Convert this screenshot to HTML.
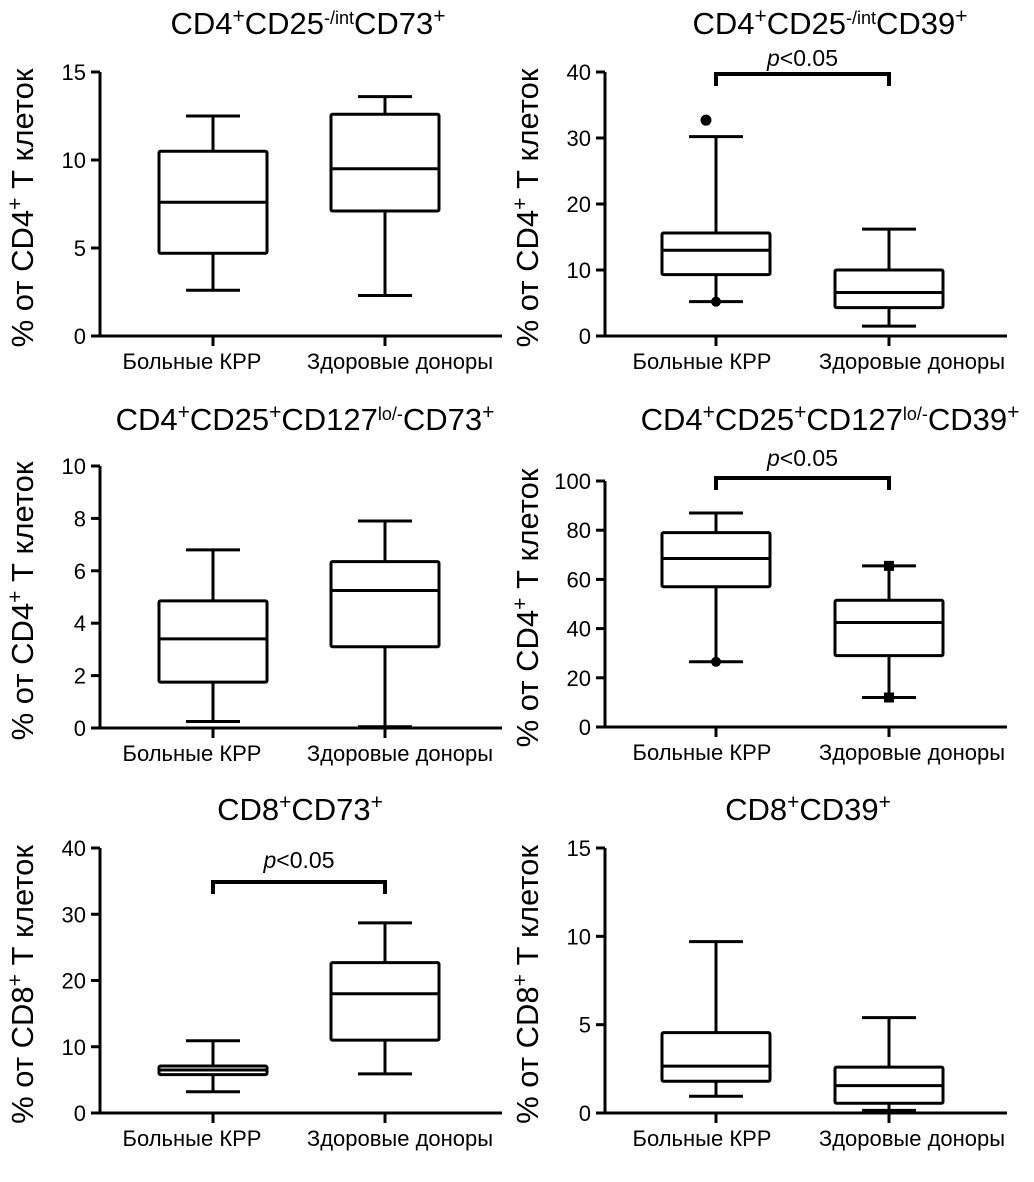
<!DOCTYPE html>
<html><head><meta charset="utf-8"><style>
body{margin:0;background:#fff}
svg{display:block;font-family:"Liberation Sans","DejaVu Sans",sans-serif}
</style></head><body>
<svg id="c" width="1034" height="1182" viewBox="0 0 1034 1182"></svg>
<script>
const categories = ["Больные КРР","Здоровые доноры"];
// each: [min, q1, median, q3, max] for patients and donors
const p1A=[2.6,4.7,7.6,10.5,12.5], p1B=[2.3,7.1,9.5,12.6,13.6];
const p2A=[5.2,9.3,13,15.6,30.2], p2B=[1.5,4.3,6.6,10,16.2];
const p3A=[0.25,1.75,3.4,4.85,6.8], p3B=[0.05,3.1,5.25,6.35,7.9];
const p4A=[26.5,57,68.5,79,87], p4B=[12,29,42.5,51.5,65.5];
const p5A=[3.2,5.8,6.5,7.1,10.9], p5B=[5.9,11,18,22.7,28.7];
const p6A=[0.95,1.8,2.65,4.55,9.7], p6B=[0.15,0.55,1.55,2.6,5.4];
const ticks1=[0,5,10,15], ticks2=[0,10,20,30,40], ticks3=[0,2,4,6,8,10], ticks4=[0,20,40,60,80,100], ticks5=[0,10,20,30,40], ticks6=[0,5,10,15];
const outliers2A=[32.7];
const NS="http://www.w3.org/2000/svg";
const svg=document.getElementById('c');
function el(t,a,p){const e=document.createElementNS(NS,t);for(const k in a)e.setAttribute(k,a[k]);(p||svg).appendChild(e);return e;}
const sp=(s,f)=>`<tspan baseline-shift="super" font-size="${f||21}">${s}</tspan>`;
const panels=[
 {title:'CD4'+sp('+')+'CD25'+sp('-/int',18)+'CD73'+sp('+'),ax:100,top:72,bot:336,cx:[213,385],A:p1A,B:p1B,ticks:ticks1,ylab:'CD4',tx:308,ty:34},
 {title:'CD4'+sp('+')+'CD25'+sp('-/int',18)+'CD39'+sp('+'),ax:605,top:72,bot:336,cx:[716,889],A:p2A,B:p2B,ticks:ticks2,ylab:'CD4',tx:830,ty:34,sig:[74,66],outA:outliers2A,dotA:true},
 {title:'CD4'+sp('+')+'CD25'+sp('+')+'CD127'+sp('lo/-',18)+'CD73'+sp('+'),ax:100,top:466,bot:728,cx:[213,385],A:p3A,B:p3B,ticks:ticks3,ylab:'CD4',tx:305,ty:430},
 {title:'CD4'+sp('+')+'CD25'+sp('+')+'CD127'+sp('lo/-',18)+'CD39'+sp('+'),ax:605,top:481,bot:727,cx:[716,889],A:p4A,B:p4B,ticks:ticks4,ylab:'CD4',tx:830,ty:430,sig:[478,466],dotA:true,sqB:true},
 {title:'CD8'+sp('+')+'CD73'+sp('+'),ax:100,top:848,bot:1113,cx:[213,385],A:p5A,B:p5B,ticks:ticks5,ylab:'CD8',tx:300,ty:820,sig:[882,868]},
 {title:'CD8'+sp('+')+'CD39'+sp('+'),ax:605,top:848,bot:1113,cx:[716,889],A:p6A,B:p6B,ticks:ticks6,ylab:'CD8',tx:808,ty:820}
];
const labX=[[192,400],[702,912]];
panels.forEach((P,i)=>{
 const g=el('g',{});
 
 
 const tmax=P.ticks[P.ticks.length-1];
 const y=v=>P.bot-(v/tmax)*(P.bot-P.top);
 const t=el('text',{x:P.tx,y:P.ty,'text-anchor':'middle','font-size':31},g);t.innerHTML=P.title;
 
 const yl=el('text',{transform:`translate(${P.ax-67},${(P.top+P.bot)/2+4}) rotate(-90)`,'text-anchor':'middle','font-size':31},g);
 yl.innerHTML='% от '+P.ylab+sp('+')+' Т клеток';
 
 const s={stroke:'#000','stroke-width':3,fill:'none'};
 el('line',Object.assign({x1:P.ax,y1:P.top,x2:P.ax,y2:P.bot+1.5},s),g);
 el('line',Object.assign({x1:P.ax-1.5,y1:P.bot,x2:P.ax+402,y2:P.bot},s),g);
 P.ticks.forEach(v=>{
  el('line',Object.assign({x1:P.ax-9,y1:y(v),x2:P.ax,y2:y(v)},s),g);
  const tl=el('text',{x:P.ax-14,y:y(v)+8,'text-anchor':'end','font-size':22},g);tl.textContent=v;
  
 });
 [P.A,P.B].forEach((d,k)=>{
  const cx=P.cx[k];
  el('line',Object.assign({x1:cx,y1:P.bot,x2:cx,y2:P.bot+10},s),g);
  const cl=el('text',{x:labX[i%2][k],y:P.bot+33,'text-anchor':'middle','font-size':22},g);cl.textContent=categories[k];
  
  const bg=el('g',{},g);
  
  
  el('line',Object.assign({x1:cx,y1:y(d[0]),x2:cx,y2:y(d[1])},s),bg);
  el('line',Object.assign({x1:cx,y1:y(d[3]),x2:cx,y2:y(d[4])},s),bg);
  el('line',Object.assign({x1:cx-27,y1:y(d[0]),x2:cx+27,y2:y(d[0])},s),bg);
  el('line',Object.assign({x1:cx-27,y1:y(d[4]),x2:cx+27,y2:y(d[4])},s),bg);
  el('rect',Object.assign({x:cx-54,y:y(d[3]),width:108,height:y(d[1])-y(d[3]),rx:1.5},s),bg);
  el('line',Object.assign({x1:cx-54,y1:y(d[2]),x2:cx+54,y2:y(d[2])},s),bg);
  if(k==0&&P.dotA) el('circle',{cx:cx,cy:y(d[0]),r:5,fill:'#000'},bg);
  if(k==0&&P.outA) P.outA.forEach(v=>el('circle',{cx:cx-10,cy:y(v),r:5.5,fill:'#000'},bg));
  if(k==1&&P.sqB){[d[0],d[4]].forEach(v=>el('rect',{x:cx-5,y:y(v)-5,width:10,height:10,fill:'#000'},bg));}
 });
 if(P.sig){
  const b=el('path',Object.assign({d:`M${P.cx[0]},${P.sig[0]+12}V${P.sig[0]}H${P.cx[1]}V${P.sig[0]+12}`},s,{'stroke-width':4}),g);
  
  const pt=el('text',{x:(P.cx[0]+P.cx[1])/2,y:P.sig[1],'text-anchor':'middle','font-size':23},g);
  pt.innerHTML='<tspan font-style="italic">p</tspan>&lt;0.05';
  
 }
});
</script>
</body></html>
